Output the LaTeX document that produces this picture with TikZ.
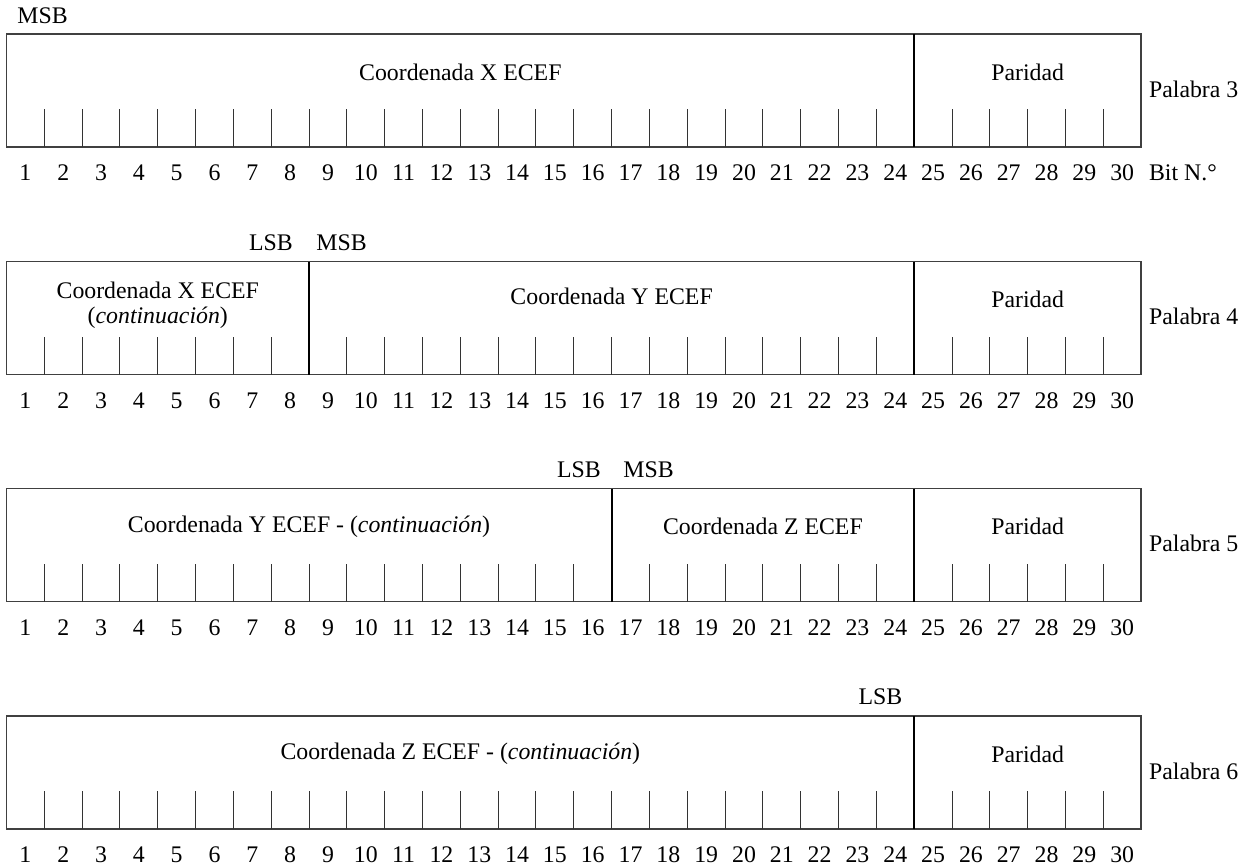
\documentclass[tikz,border=0pt]{standalone}
\usepackage{fontspec}
\setmainfont{Liberation Serif}
\usetikzlibrary{calc}
\def\cw{37.82}
\def\bitrow(#1:#2:#3){%
	\draw[line width=0.6pt, color=black!75] (6.5,#1) rectangle (1141,{#1+113});
	\foreach \i in {1,...,29}
		\draw[line width=0.5pt, color=black!80] ({6.5+\i*\cw},{#1+113}) -- ({6.5+\i*\cw},{#1+75});
	\foreach \i in {1,...,30}
		\node (#2-\i) at ({6.5+(\i-0.5)*\cw},{#1+139}) {\i};
	\draw[line width=1pt] ({6.5+24*\cw},#1) -- ({6.5+24*\cw},{#1+113});
	\node (#2-par) at ({6.5+27*\cw},{#1+38}) {Paridad};
	\node[anchor=west] (#2-pal) at (1142,{#1+55}) {Palabra #3};
}

\begin{document}
\begin{tikzpicture}[x=0.5pt, y=-0.5pt, font=\fontsize{11.9}{12}\selectfont]
			%%%%% START %%%%%
			
			\useasboundingbox (0,0) rectangle (1251,866);
			
			% Palabra 3
			\bitrow(34:w3:3)
			\node (w3-x) at ({6.5+12*\cw},72) {Coordenada X ECEF};
			\node (w3-msb) at (42.5,16) {MSB};
			\node[anchor=west] (w3-bit) at (1142,173) {Bit N.\textdegree};
			
			% Palabra 4
			\bitrow(261.5:w4:4)
			\draw[line width=1pt] ({6.5+8*\cw},261.5) -- ({6.5+8*\cw},374.5);
			\node[align=center, font=\fontsize{11.9}{12.4}\selectfont] (w4-x) at ({6.5+4*\cw},305) {Coordenada X ECEF\\(\textit{continuación})};
			\node (w4-y) at ({6.5+16*\cw},296) {Coordenada Y ECEF};
			\node (w4-lsb) at (271,243) {LSB};
			\node (w4-msb) at (341.5,243) {MSB};
			
			% Palabra 5
			\bitrow(488.5:w5:5)
			\draw[line width=1pt] ({6.5+16*\cw},488.5) -- ({6.5+16*\cw},601.5);
			\node (w5-y) at ({6.5+8*\cw},526.5) {Coordenada Y ECEF - (\textit{continuación})};
			\node (w5-z) at ({6.5+20*\cw},526.5) {Coordenada Z ECEF};
			\node (w5-lsb) at (579,470) {LSB};
			\node (w5-msb) at (648.5,470) {MSB};
			
			% Palabra 6
			\bitrow(716:w6:6)
			\node (w6-z) at ({6.5+12*\cw},754) {Coordenada Z ECEF - (\textit{continuación})};
			\node (w6-lsb) at (880.5,697) {LSB};
			
			%%%%% END %%%%%
\end{tikzpicture}
\end{document}
